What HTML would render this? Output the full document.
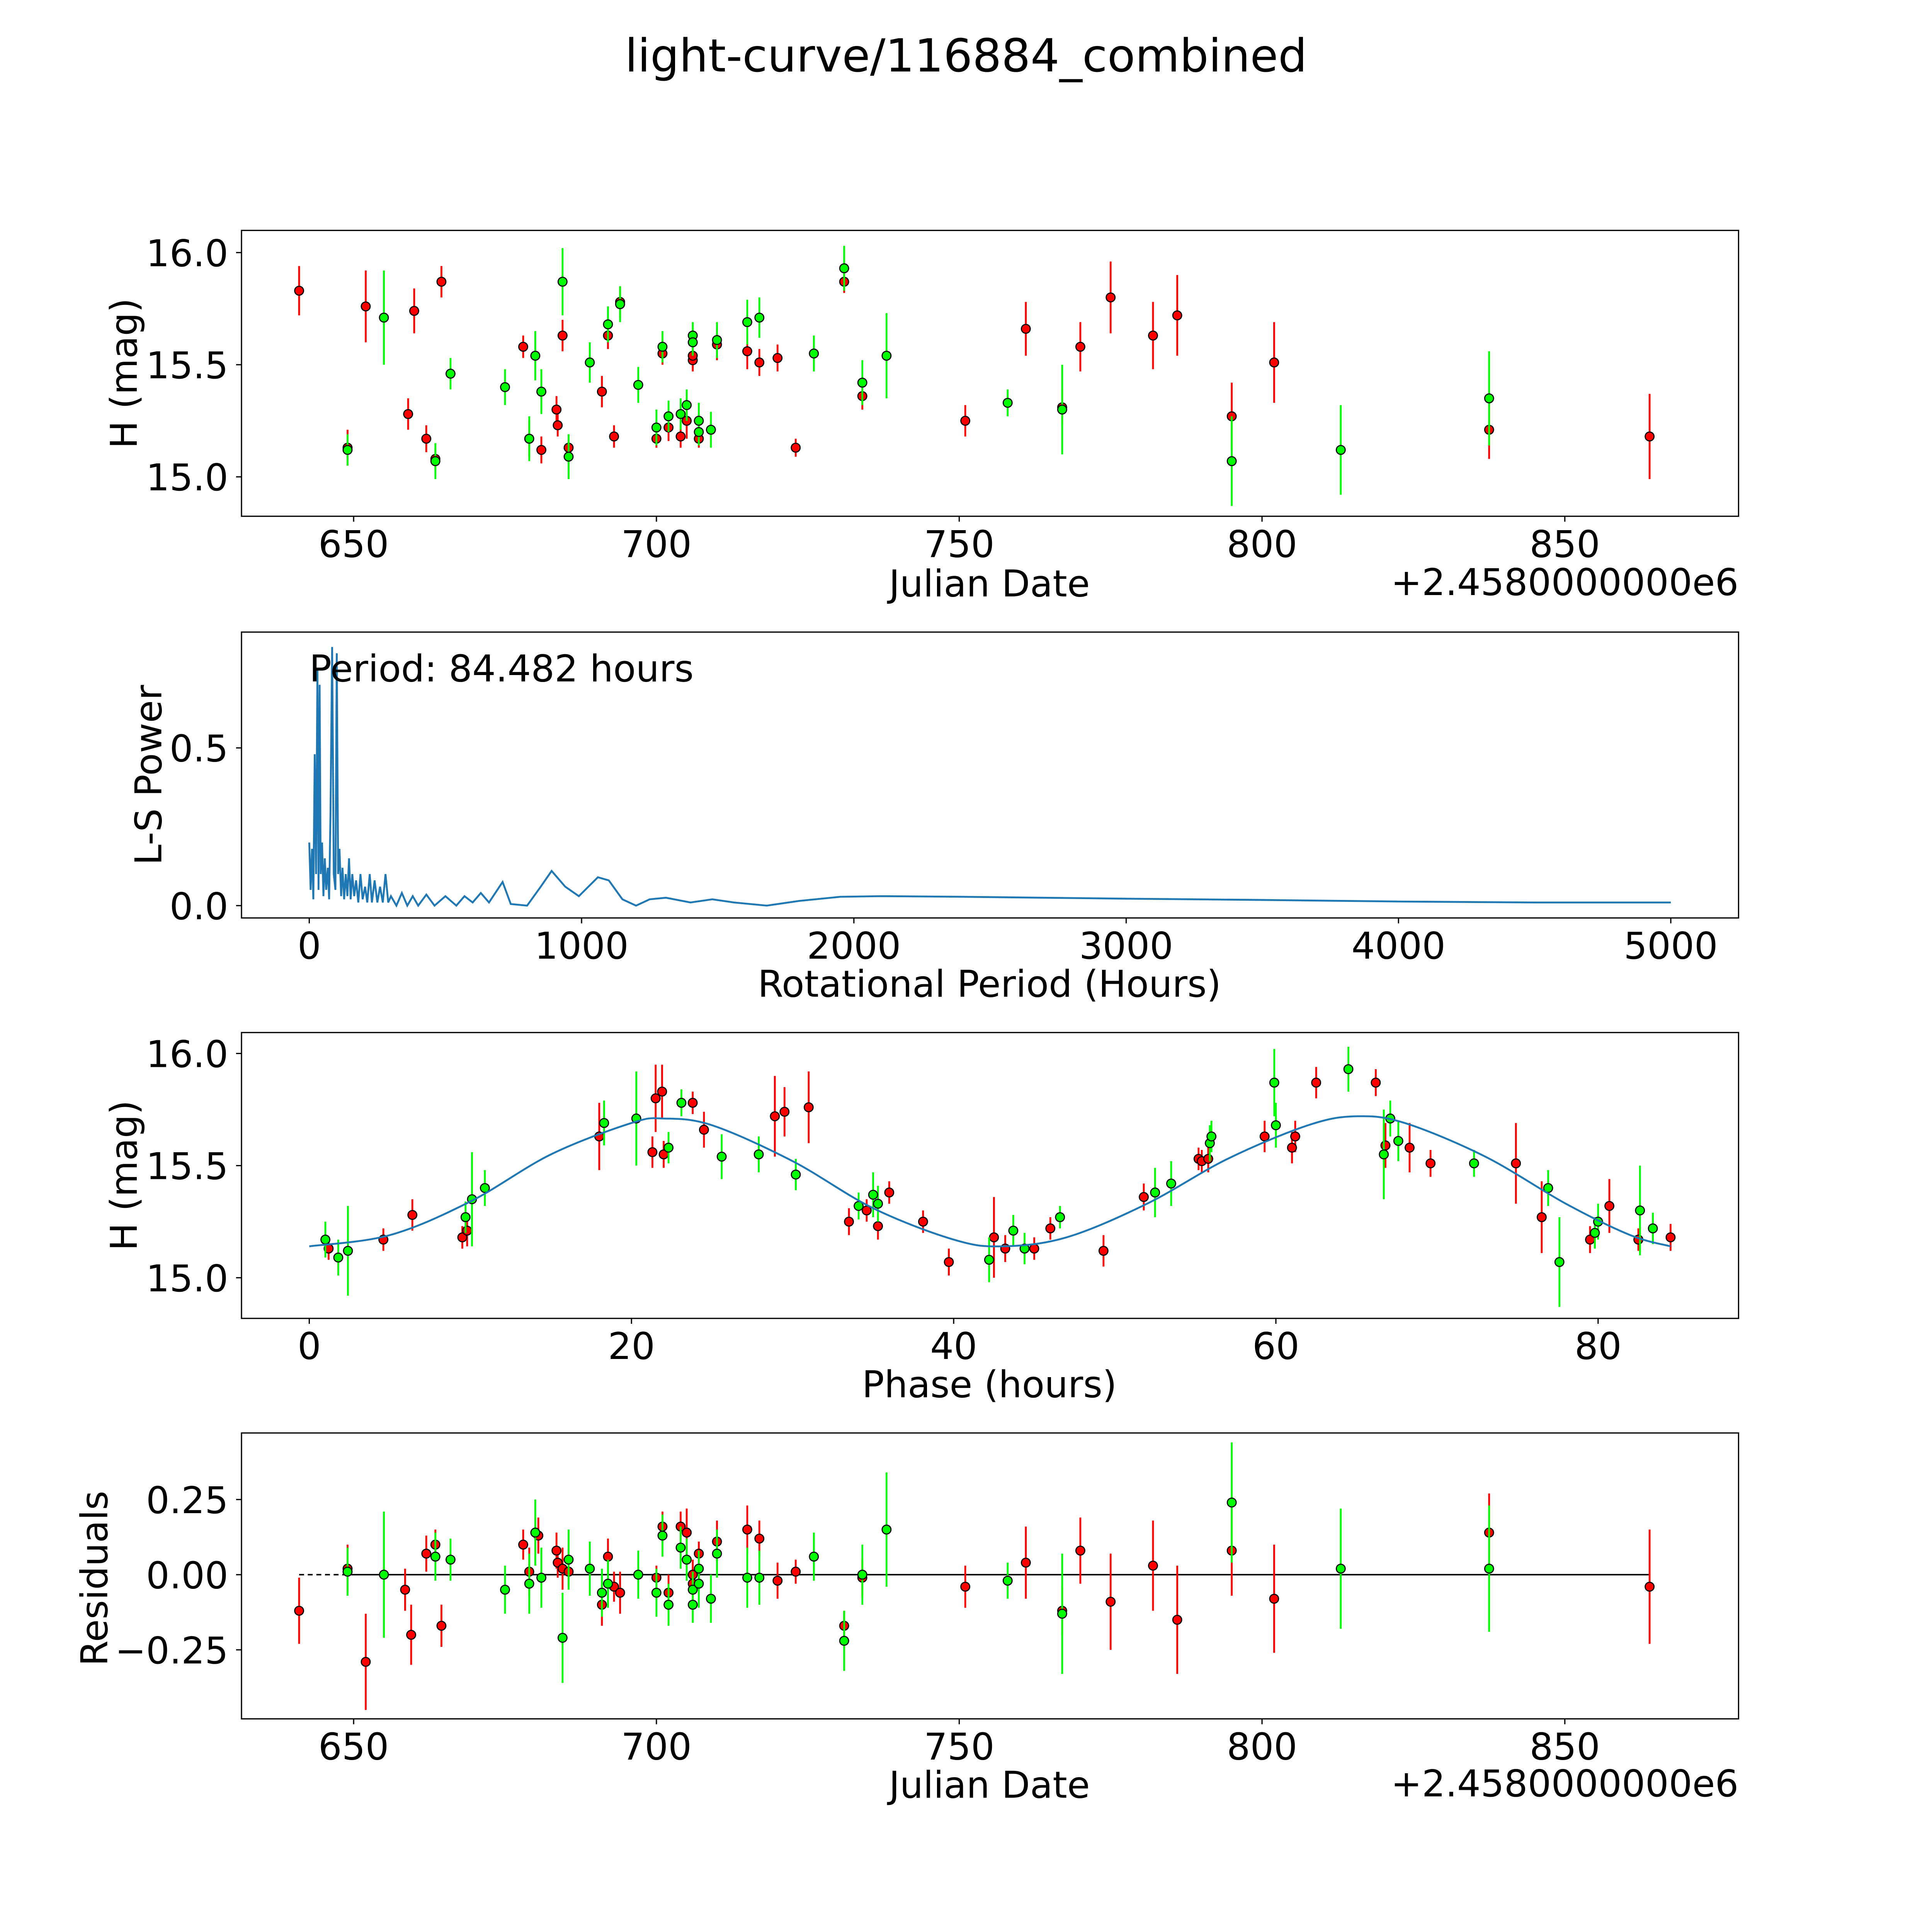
<!DOCTYPE html>
<html><head><meta charset="utf-8"><style>
html,body{margin:0;padding:0;background:#fff;overflow:hidden;width:100vw;height:100vh}
svg{display:block;width:100vw;height:100vh}
text{font-family:"DejaVu Sans","Liberation Sans",sans-serif;fill:#000}
</style></head><body><svg id="chart" viewBox="0 0 1568 1568" preserveAspectRatio="xMidYMid meet" xmlns="http://www.w3.org/2000/svg">
<text x="784" y="58" font-size="37" text-anchor="middle">light-curve/116884_combined</text>
</svg><script>
// ---------- Panel 1 data: raw light curve ----------
const redDates=[641,649,652,659,660,662,663.5,664.5,678,679,681,683.5,683.7,684.5,685.5,691,692,693,694,701,702,700,704,705,706,706,707,710,715,717,720,723,731,734,751,761,767,770,775,782,786,795,802,837.5,864];
const redMags=[15.83,15.13,15.76,15.28,15.74,15.17,15.08,15.87,15.58,15.17,15.12,15.30,15.23,15.63,15.13,15.38,15.63,15.18,15.78,15.55,15.22,15.17,15.18,15.25,15.52,15.54,15.17,15.59,15.56,15.51,15.53,15.13,15.87,15.36,15.25,15.66,15.31,15.58,15.80,15.63,15.72,15.27,15.51,15.21,15.18];
const redErrs=[0.11,0.08,0.16,0.07,0.1,0.06,0.05,0.07,0.05,0.08,0.06,0.06,0.05,0.07,0.05,0.07,0.06,0.05,0.07,0.05,0.06,0.04,0.05,0.08,0.05,0.05,0.04,0.07,0.08,0.06,0.06,0.04,0.05,0.06,0.07,0.12,0.08,0.11,0.16,0.15,0.18,0.15,0.18,0.13,0.19];
const greenDates=[649,655,663.5,666,675,679,680,681,684.5,685.5,689,692,694,697,700,701,702,704,705,706,706,707,707,709,710,715,717,726,731,734,738,758,767,795,813,837.5];
const greenMags=[15.12,15.71,15.07,15.46,15.40,15.17,15.54,15.38,15.87,15.09,15.51,15.68,15.77,15.41,15.22,15.58,15.27,15.28,15.32,15.63,15.60,15.25,15.20,15.21,15.61,15.69,15.71,15.55,15.93,15.42,15.54,15.33,15.30,15.07,15.12,15.35];
const greenErrs=[0.07,0.21,0.08,0.07,0.08,0.1,0.11,0.1,0.15,0.1,0.09,0.08,0.08,0.08,0.08,0.07,0.07,0.07,0.07,0.06,0.06,0.08,0.06,0.08,0.08,0.1,0.09,0.08,0.1,0.1,0.19,0.06,0.2,0.2,0.2,0.21];
// ---------- Panel 2 data: periodogram ----------
const periods=[0,5,10,15,20,25,30,34,38,42,47,52,57,62,68,73,78,84,90,96,101,106,111,117,122,128,134,140,146,152,158,165,172,180,188,196,205,213,222,230,240,250,260,270,280,290,300,320,340,360,380,400,430,460,500,540,570,600,630,660,710,740,800,850,890,940,990,1060,1100,1150,1200,1250,1310,1400,1480,1560,1680,1800,1950,2100,2400,3000,3500,4000,4500,5000];
const powers=[0.2,0.05,0.18,0.02,0.48,0.1,0.75,0.05,0.7,0.1,0.2,0.03,0.15,0.05,0.12,0.02,0.3,0.82,0.1,0.05,0.8,0.1,0.18,0.03,0.12,0.02,0.1,0.03,0.15,0.02,0.1,0.03,0.08,0.01,0.1,0.02,0.06,0.01,0.1,0.01,0.08,0.01,0.06,0.01,0.1,0.01,0.03,0.0,0.04,0.0,0.03,0.0,0.035,0.0,0.03,0.0,0.03,0.01,0.04,0.01,0.075,0.005,0.0,0.06,0.11,0.06,0.03,0.09,0.08,0.02,0.0,0.02,0.025,0.01,0.02,0.01,0.0,0.015,0.028,0.03,0.028,0.022,0.018,0.013,0.01,0.01];
// ---------- Panel 3 data: phased ----------
const redPhase=[1.2,4.6,6.4,9.5,9.8,18,21.3,21.5,21.9,22,23.8,24.5,28.9,29.5,31.0,33.5,34.6,35.3,36,38.1,39.7,42.5,43.2,45,46,49.3,51.8,55.2,55.4,55.8,59.3,61,61.2,62.5,66.2,66.8,68.3,69.6,74.9,76.5,79.5,80.7,82.5,84.5];
const redPhaseMag=[15.13,15.17,15.28,15.18,15.21,15.63,15.56,15.80,15.83,15.55,15.78,15.66,15.72,15.74,15.76,15.25,15.30,15.23,15.38,15.25,15.07,15.18,15.13,15.13,15.22,15.12,15.36,15.53,15.52,15.53,15.63,15.58,15.63,15.87,15.87,15.59,15.58,15.51,15.51,15.27,15.17,15.32,15.17,15.18];
const redPhaseErr=[0.05,0.05,0.07,0.05,0.07,0.15,0.07,0.15,0.12,0.06,0.05,0.08,0.18,0.11,0.16,0.06,0.05,0.06,0.05,0.05,0.06,0.18,0.06,0.05,0.05,0.07,0.06,0.05,0.05,0.06,0.07,0.07,0.07,0.07,0.06,0.1,0.11,0.06,0.18,0.16,0.06,0.12,0.05,0.06];
const greenPhase=[1,1.8,2.4,9.7,10.1,10.9,18.3,20.3,22.3,23.1,25.6,27.9,30.2,34.1,35,35.3,42.2,43.7,44.4,46.6,52.5,53.5,55.9,56,59.9,60.0,64.5,66.7,67.1,67.6,72.3,76.9,77.6,79.8,80,82.6,83.4];
const greenPhaseMag=[15.17,15.09,15.12,15.27,15.35,15.40,15.69,15.71,15.58,15.78,15.54,15.55,15.46,15.32,15.37,15.33,15.08,15.21,15.13,15.27,15.38,15.42,15.60,15.63,15.87,15.68,15.93,15.55,15.71,15.61,15.51,15.40,15.07,15.20,15.25,15.30,15.22];
const greenPhaseErr=[0.08,0.08,0.2,0.07,0.21,0.08,0.1,0.21,0.07,0.06,0.1,0.08,0.07,0.06,0.1,0.08,0.1,0.07,0.07,0.05,0.11,0.1,0.08,0.07,0.15,0.1,0.1,0.2,0.08,0.09,0.06,0.08,0.2,0.07,0.08,0.2,0.07];
const modelPhase=[0,5,10,15,20,22,25,30,35,40,43,47,52,57,62,65,68,73,78,82,84.5];
const modelMag=[15.14,15.19,15.34,15.55,15.69,15.71,15.68,15.52,15.31,15.17,15.14,15.18,15.33,15.53,15.68,15.72,15.69,15.54,15.33,15.19,15.14];
// ---------- Panel 4 data: residuals ----------
const redResDates=[641,649,652,658.5,659.5,662,663.5,664.5,678,679,680.5,683.5,683.7,684.5,685.5,691,692,693,694,700,701,702,704,705,706,706,707,710,715,717,720,723,731,734,751,761,767,770,775,782,786,795,802,837.5,864];
const redRes=[-0.12,0.02,-0.29,-0.05,-0.2,0.07,0.10,-0.17,0.10,0.01,0.13,0.08,0.04,0.02,0.01,-0.1,0.06,-0.04,-0.06,-0.01,0.16,-0.06,0.16,0.14,-0.03,0.0,0.07,0.11,0.15,0.12,-0.02,0.01,-0.17,-0.01,-0.04,0.04,-0.12,0.08,-0.09,0.03,-0.15,0.08,-0.08,0.14,-0.04];
const redResErr=[0.11,0.08,0.16,0.07,0.1,0.06,0.05,0.07,0.05,0.08,0.06,0.06,0.05,0.07,0.05,0.07,0.06,0.05,0.07,0.04,0.05,0.06,0.05,0.08,0.05,0.05,0.04,0.07,0.08,0.06,0.06,0.04,0.05,0.06,0.07,0.12,0.08,0.11,0.16,0.15,0.18,0.15,0.18,0.13,0.19];
const greenResDates=[649,655,663.5,666,675,679,680,681,684.5,685.5,689,691,692,697,700,701,702,704,705,706,706,707,707,709,710,715,717,726,731,734,738,758,767,795,813,837.5];
const greenRes=[0.01,0.0,0.06,0.05,-0.05,-0.03,0.14,-0.01,-0.21,0.05,0.02,-0.06,-0.03,0.0,-0.06,0.13,-0.1,0.09,0.05,-0.05,-0.1,-0.03,0.02,-0.08,0.07,-0.01,-0.01,0.06,-0.22,0.0,0.15,-0.02,-0.13,0.24,0.02,0.02];
const greenResErr=[0.08,0.21,0.08,0.07,0.08,0.1,0.11,0.1,0.15,0.1,0.09,0.08,0.08,0.08,0.08,0.07,0.07,0.07,0.07,0.06,0.06,0.08,0.06,0.08,0.08,0.1,0.09,0.08,0.1,0.1,0.19,0.06,0.2,0.2,0.2,0.21];
const dateTicks=[650,700,750,800,850];
const magTicks=[15.0,15.5,16.0];
const magTickLabels=["15.0","15.5","16.0"];
const periodTicks=[0,1000,2000,3000,4000,5000];
const powerTicks=[0,0.5];
const powerTickLabels=["0.0","0.5"];
const phaseTicks=[0,20,40,60,80];
const resTicks=[0.25,0,-0.25];
const resTickLabels=["0.25","0.00","\u22120.25"];

const NS="http://www.w3.org/2000/svg";
const svg=document.getElementById('chart');
function mk(tag,attrs,parent){const e=document.createElementNS(NS,tag);for(const k in attrs)e.setAttribute(k,attrs[k]);(parent||svg).appendChild(e);return e;}
function scale(d0,d1,p0,p1){return v=>p0+(v-d0)*(p1-p0)/(d1-d0);}
const L=196,R=1411;
function frame(top,bot,name){
  const r=mk('rect',{x:L,y:top,width:R-L,height:bot-top,fill:'none',stroke:'#000','stroke-width':1});
  
  
}
function xticks(sx,ticks,labels,bot,name){
  ticks.forEach((t,i)=>{const x=sx(t);
    const l=mk('line',{x1:x,x2:x,y1:bot,y2:bot+4.4,stroke:'#000','stroke-width':1});
    
    
    const tx=mk('text',{x:x,y:bot+33,'font-size':30,'text-anchor':'middle'});
    
    
    tx.textContent=labels[i];});
}
function yticks(sy,ticks,labels,name){
  ticks.forEach((t,i)=>{const y=sy(t);
    const l=mk('line',{x1:L-4.4,x2:L,y1:y,y2:y,stroke:'#000','stroke-width':1});
    
    
    const tx=mk('text',{x:L-10.7,y:y+11,'font-size':30,'text-anchor':'end'});
    
    
    tx.textContent=labels[i];});
}
function label(x,y,txt,rot,name){
  const t=mk('text',{x:x,y:y,'font-size':30,'text-anchor':'middle'});
  if(rot)t.setAttribute('transform','rotate(-90 '+x+' '+y+')');
  
  
  t.textContent=txt;
}
function points(sx,sy,xs,ys,es,col,name){
  const g=mk('g',{});
  
  
  xs.forEach((v,i)=>{const x=sx(v);
    const l=mk('line',{x1:x,x2:x,y1:sy(ys[i]-es[i]),y2:sy(ys[i]+es[i]),stroke:col,'stroke-width':1.5},g);
    
    });
  xs.forEach((v,i)=>{
    const c=mk('circle',{cx:sx(v),cy:sy(ys[i]),r:3.6,fill:col,stroke:'#000','stroke-width':0.9},g);
    
    });
}
function clip(id,top,bot){const cp=mk('clipPath',{id:id});mk('rect',{x:L,y:top,width:R-L,height:bot-top},cp);}

// Panel 1
{const top=187,bot=419;const sx=scale(650,850,287,1270),sy=scale(15,16,387,205);
clip('c1',top,bot);
points(sx,sy,redDates,redMags,redErrs,'#ff0000','raw-red');
points(sx,sy,greenDates,greenMags,greenErrs,'#00ff00','raw-green');
frame(top,bot,'raw-lightcurve');
xticks(sx,dateTicks,dateTicks.map(String),bot,'raw');
yticks(sy,magTicks,magTickLabels,'raw');
label(803,484,'Julian Date',false,'raw-x-axis-title');
const o=mk('text',{x:R,y:483,'font-size':30,'text-anchor':'end'});o.textContent='+2.4580000000e6';


label(111,303,'H (mag)',true,'raw-y-axis-title');}

// Panel 2
{const top=513,bot=745;const sx=scale(0,5000,251,1356),sy=scale(0,0.5,735,607);
clip('c2',top,bot);
const d=periods.map((p,i)=>(i?'L':'M')+sx(p).toFixed(2)+' '+sy(powers[i]).toFixed(2)).join(' ');
const p=mk('path',{d:d,fill:'none',stroke:'#1f77b4','stroke-width':1.5,'clip-path':'url(#c2)'});


frame(top,bot,'periodogram');
xticks(sx,periodTicks,periodTicks.map(String),bot,'periodogram');
yticks(sy,powerTicks,powerTickLabels,'periodogram');
label(803,809,'Rotational Period (Hours)',false,'periodogram-x-axis-title');
label(131,629,'L-S Power',true,'periodogram-y-axis-title');
const a=mk('text',{x:251,y:553,'font-size':30});a.textContent='Period: 84.482 hours';

}

// Panel 3
{const top=838,bot=1070;const sx=scale(0,80,251,1297),sy=scale(15,16,1037,855);
clip('c3',top,bot);
points(sx,sy,redPhase,redPhaseMag,redPhaseErr,'#ff0000','phased-red');
points(sx,sy,greenPhase,greenPhaseMag,greenPhaseErr,'#00ff00','phased-green');
let d='M'+sx(modelPhase[0])+' '+sy(modelMag[0]);
for(let i=0;i<modelPhase.length-1;i++){
  const p0=i?i-1:i,p3=i+2<modelPhase.length?i+2:i+1;
  const x0=sx(modelPhase[p0]),y0=sy(modelMag[p0]),x1=sx(modelPhase[i]),y1=sy(modelMag[i]),x2=sx(modelPhase[i+1]),y2=sy(modelMag[i+1]),x3=sx(modelPhase[p3]),y3=sy(modelMag[p3]);
  d+=' C'+(x1+(x2-x0)/6)+' '+(y1+(y2-y0)/6)+' '+(x2-(x3-x1)/6)+' '+(y2-(y3-y1)/6)+' '+x2+' '+y2;}
const m=mk('path',{d:d,fill:'none',stroke:'#1f77b4','stroke-width':1.5});


frame(top,bot,'phased');
xticks(sx,phaseTicks,phaseTicks.map(String),bot,'phased');
yticks(sy,magTicks,magTickLabels,'phased');
label(803,1134,'Phase (hours)',false,'phased-x-axis-title');
label(111,954,'H (mag)',true,'phased-y-axis-title');}

// Panel 4
{const top=1163,bot=1395;const sx=scale(650,850,287,1270),sy=scale(0,0.25,1278,1217);
clip('c4',top,bot);
const ld=mk('line',{x1:sx(641),x2:sx(649),y1:sy(0),y2:sy(0),stroke:'#000','stroke-width':1.2,'stroke-dasharray':'4 3'});


const ls=mk('line',{x1:sx(649),x2:sx(864),y1:sy(0),y2:sy(0),stroke:'#000','stroke-width':1.2});


points(sx,sy,redResDates,redRes,redResErr,'#ff0000','residual-red');
points(sx,sy,greenResDates,greenRes,greenResErr,'#00ff00','residual-green');
frame(top,bot,'residuals');
xticks(sx,dateTicks,dateTicks.map(String),bot,'residuals');
yticks(sy,resTicks,resTickLabels,'residuals');
label(803,1459,'Julian Date',false,'residuals-x-axis-title');
const o=mk('text',{x:R,y:1458,'font-size':30,'text-anchor':'end'});o.textContent='+2.4580000000e6';


label(87,1281,'Residuals',true,'residuals-y-axis-title');}
</script></body></html>
